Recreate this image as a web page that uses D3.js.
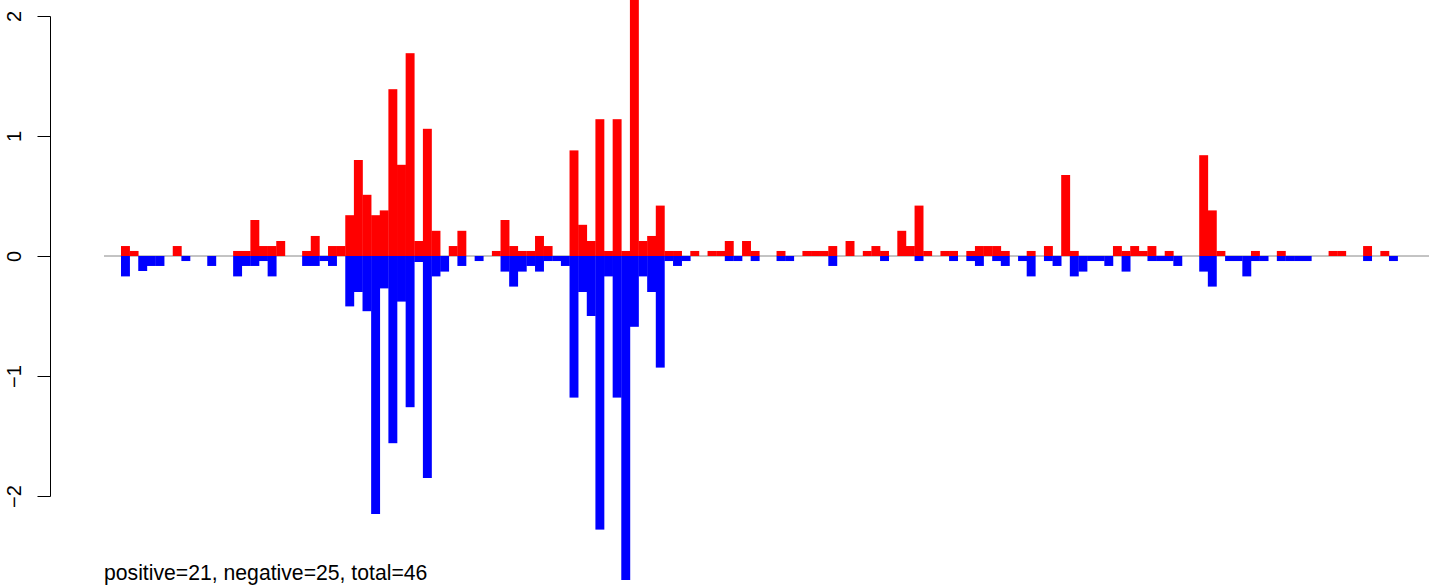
<!DOCTYPE html>
<html><head><meta charset="utf-8">
<script src="https://cdn.jsdelivr.net/npm/d3@7"></script>
<style>html,body{margin:0;padding:0;background:#fff;}svg{display:block;}</style>
</head><body>
<svg id="chart" width="1429" height="586"></svg>
<script>
const positive = [0.083,0.042,0,0,0,0,0.083,0,0,0,0,0,0,0.042,0.042,0.3,0.083,0.083,0.125,0,0,0.042,0.167,0,0.083,
0.083,0.34,0.8,0.51,0.34,0.38,1.39,0.76,1.69,0.125,1.06,0.21,0,0.083,0.21,0,0,0,0.042,0.3,0.083,0.042,0.042,0.167,0.083,
0,0,0.88,0.26,0.125,1.14,0.042,1.14,0.042,2.3,0.125,0.167,0.42,0.042,0.042,0,0.042,0,0.042,0.042,0.125,0,0.125,0.042,0,
0,0.042,0,0,0.042,0.042,0.042,0.083,0,0.125,0,0.042,0.083,0.042,0,0.21,0.083,0.42,0.042,0,0.042,0.042,0,0.042,0.083,
0.083,0.083,0.042,0,0,0.042,0,0.083,0,0.675,0.042,0,0,0,0,0.083,0.042,0.083,0.042,0.083,0,0.042,0,0,0,
0.84,0.38,0.042,0,0,0,0.042,0,0,0.042,0,0,0,0,0,0.042,0.042,0,0,0.083,0,0.042,0];
const negative = [0.17,0,0.125,0.083,0.083,0,0,0.042,0,0,0.083,0,0,0.17,0.083,0.083,0.042,0.17,0,0,0,0.083,0.083,0.042,0.083,
0,0.42,0.3,0.46,2.15,0.27,1.56,0.38,1.26,0.05,1.85,0.17,0.13,0,0.083,0,0.042,0,0,0.13,0.255,0.13,0.083,0.13,0.042,
0.042,0.083,1.18,0.3,0.5,2.28,0.17,1.18,2.7,0.59,0.17,0.3,0.93,0.042,0.083,0.042,0,0,0,0,0.042,0.042,0,0.042,0,
0,0.042,0.042,0,0,0,0,0.083,0,0,0,0,0,0.042,0,0,0,0.042,0,0,0,0.042,0,0.042,0.083,
0,0.042,0.083,0,0.042,0.17,0,0.042,0.083,0,0.17,0.13,0.042,0.042,0.083,0,0.13,0,0,0.042,0.042,0.042,0.083,0,0,
0.13,0.255,0,0.042,0.042,0.17,0.042,0.042,0,0.042,0.042,0.042,0.042,0,0,0,0,0,0,0.042,0,0,0.042];
const yTicks = [-2,-1,0,1,2];
const caption = "positive=21, negative=25, total=46";

const svg = d3.select("#chart");
const n = positive.length;
const x = d3.scaleLinear().domain([0, n]).range([121, 1397.6]);
const y = d3.scaleLinear().domain([-2, 2]).range([496, 16]);

// baseline
svg.append("line").attr("x1", 104).attr("x2", 1429)
  .attr("y1", y(0)).attr("y2", y(0))
  .attr("stroke", "#888").attr("stroke-width", 1);

const idx = d3.range(n);
svg.append("g").selectAll("rect").data(idx.filter(i => positive[i] > 0)).join("rect")
  .attr("x", i => x(i)).attr("width", i => x(i + 1) - x(i) + 0.3)
  .attr("y", i => y(positive[i])).attr("height", i => y(0) - y(positive[i]))
  .attr("fill", "#ff0000");
svg.append("g").selectAll("rect").data(idx.filter(i => negative[i] > 0)).join("rect")
  .attr("x", i => x(i)).attr("width", i => x(i + 1) - x(i) + 0.3)
  .attr("y", y(0)).attr("height", i => y(-negative[i]) - y(0))
  .attr("fill", "#0000ff");

// y axis
const axis = d3.axisLeft(y).tickValues(yTicks).tickSize(13).tickPadding(0)
  .tickFormat(d => d < 0 ? "\u2212" + Math.abs(d) : String(d));
const ag = svg.append("g").attr("transform", "translate(50.5,0)").call(axis);
ag.select(".domain").attr("stroke", "#000").attr("d", "M-0,16.5V496.5");
ag.selectAll(".tick line").attr("stroke", "#000").attr("x1", 0).attr("x2", -13);
ag.selectAll(".tick text")
  .attr("font-family", "Liberation Sans, Arial, sans-serif").attr("font-size", 20)
  .attr("fill", "#000")
  .attr("text-anchor", "middle")
  .attr("transform", "translate(-29.5,0) rotate(-90)")
  .attr("x", 0).attr("y", 0).attr("dy", 0);

svg.append("text").attr("x", 104).attr("y", 580)
  .attr("font-family", "Liberation Sans, Arial, sans-serif").attr("font-size", 21.2)
  .attr("fill", "#000").text(caption);
</script>
</body></html>
